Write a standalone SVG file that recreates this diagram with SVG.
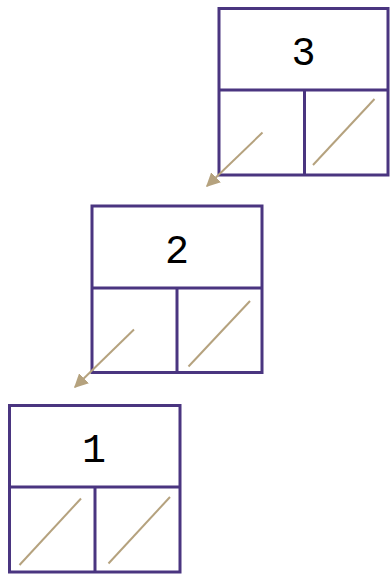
<svg xmlns="http://www.w3.org/2000/svg" width="390" height="575" viewBox="0 0 390 575">
<style>
.box{fill:#fff;stroke:#4a3580;stroke-width:3}
.div{stroke:#4a3580;stroke-width:3;fill:none}
.nil{stroke:#b5a27e;stroke-width:2;fill:none}
.ptr{stroke:#b5a27e;stroke-width:2;fill:none}
.val{font-family:"Liberation Mono",monospace;font-size:40px;fill:#000;text-anchor:middle}
</style>
<defs>
<marker id="ah" viewBox="0 0 10 10" refX="9" refY="5" markerWidth="7" markerHeight="7" orient="auto" markerUnits="strokeWidth">
<path d="M0,0 L10,5 L0,10 Z" fill="#b5a27e"/>
</marker>
</defs>
<g id="node3">
<rect class="box" x="219" y="8.5" width="169" height="166.5"/>
<line class="div" x1="219" y1="90" x2="388" y2="90"/>
<line class="div" x1="304.5" y1="90" x2="304.5" y2="175"/>
<text class="val" x="303.5" y="65">3</text>
<line class="nil" x1="313" y1="165" x2="374.5" y2="99"/>
</g>
<g id="node2">
<rect class="box" x="92" y="206" width="170" height="166.5"/>
<line class="div" x1="92" y1="288" x2="262" y2="288"/>
<line class="div" x1="177" y1="288" x2="177" y2="372.5"/>
<text class="val" x="177" y="263">2</text>
<line class="nil" x1="188.5" y1="366.5" x2="250" y2="301"/>
</g>
<g id="node1">
<rect class="box" x="9.5" y="405.5" width="170.5" height="166.5"/>
<line class="div" x1="9.5" y1="487" x2="180" y2="487"/>
<line class="div" x1="95" y1="487" x2="95" y2="572"/>
<text class="val" x="94" y="462">1</text>
<line class="nil" x1="19.5" y1="565" x2="81" y2="498.5"/>
<line class="nil" x1="108.5" y1="563.5" x2="170" y2="497"/>
</g>
<g id="connectors">
<line class="ptr" x1="262.5" y1="132.5" x2="207" y2="186" marker-end="url(#ah)"/>
<line class="ptr" x1="134" y1="329.5" x2="75" y2="387" marker-end="url(#ah)"/>
</g>
</svg>
